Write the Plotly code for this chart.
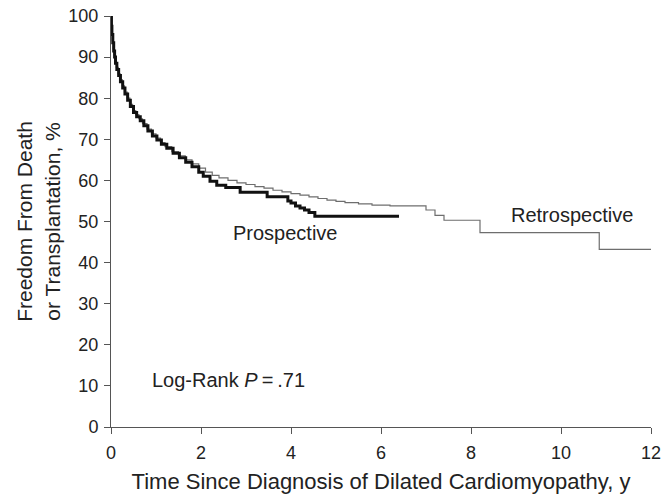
import plotly.graph_objects as go

# Retrospective cohort (thin gray step curve)
retro_t = [0, 0.01, 0.02, 0.03, 0.05, 0.07, 0.09, 0.12, 0.16, 0.2, 0.25, 0.3, 0.36, 0.42, 0.48,
           0.55, 0.62, 0.7, 0.8, 0.9, 1.0, 1.1, 1.2, 1.35, 1.5, 1.65, 1.8, 1.95, 2.1, 2.25, 2.4,
           2.6, 2.8, 3.0, 3.2, 3.4, 3.6, 3.8, 4.0, 4.2, 4.4, 4.6, 4.8, 5.0, 5.2, 5.5, 5.8, 6.2,
           7.0, 7.2, 7.4, 8.2, 10.85, 12.0]
retro_v = [100, 98, 96, 94, 92, 90.5, 89, 87.5, 86, 84.5, 83, 81.5, 80, 78.5, 77,
           76, 75, 73.8, 72.5, 71.3, 70.3, 69.2, 68.2, 67, 66, 65, 64, 63, 62, 61.2, 60.6,
           60, 59.4, 59, 58.5, 58.1, 57.6, 57.2, 56.8, 56.4, 56, 55.6, 55.2, 54.9, 54.6, 54.3, 54.0, 53.8,
           52.8, 51.5, 50.3, 47.3, 43.2, 43.2]

# Prospective cohort (thick black step curve)
pro_t = [0, 0.01, 0.02, 0.04, 0.06, 0.08, 0.1, 0.13, 0.17, 0.21, 0.26, 0.31, 0.37, 0.43, 0.5,
         0.57, 0.65, 0.73, 0.82, 0.92, 1.02, 1.12, 1.24, 1.38, 1.52, 1.66, 1.8, 1.95, 2.05, 2.2,
         2.35, 2.55, 2.87, 3.47, 3.93, 4.0, 4.1, 4.2, 4.3, 4.4, 4.53, 6.4]
pro_v = [100, 97.5, 95.5, 93.5, 91.5, 90, 88.5, 87, 85.5, 84, 82.5, 81, 79.5, 78, 76.5,
         75.5, 74.5, 73.3, 72, 70.8, 69.8, 68.8, 67.8, 66.6, 65.5, 64.4, 63.3, 62, 61, 59.8,
         58.8, 58.3, 57.1, 56.0, 55.0, 54.5, 53.8, 53.3, 52.8, 52.2, 51.3, 51.3]

x_ticks = [0, 2, 4, 6, 8, 10, 12]
y_ticks = [0, 10, 20, 30, 40, 50, 60, 70, 80, 90, 100]

FONT = "Liberation Sans, Arial, Helvetica, sans-serif"
INK = "#222222"

fig = go.Figure()
fig.add_trace(go.Scatter(x=retro_t, y=retro_v, mode="lines", line_shape="hv",
                         line=dict(color="#6e6e6e", width=1.2), name="Retrospective",
                         showlegend=False, cliponaxis=False))
fig.add_trace(go.Scatter(x=pro_t, y=pro_v, mode="lines", line_shape="hv",
                         line=dict(color="#111111", width=3), name="Prospective",
                         showlegend=False, cliponaxis=False))

fig.add_annotation(x=3.87, y=47.3, text="Prospective", showarrow=False,
                   font=dict(family=FONT, size=20, color=INK))
fig.add_annotation(x=10.24, y=51.6, text="Retrospective", showarrow=False,
                   font=dict(family=FONT, size=20, color=INK))
fig.add_annotation(x=0.86, y=11.4, text="Log-Rank <i>P</i>\u2009=\u2009.71", showarrow=False,
                   xanchor="left", font=dict(family=FONT, size=20, color=INK))

fig.update_layout(
    width=663, height=497,
    margin=dict(l=111, r=12, t=16, b=70),
    paper_bgcolor="white", plot_bgcolor="white",
    font=dict(family=FONT, size=18, color=INK),
    xaxis=dict(range=[0, 12], tickvals=x_ticks, ticks="outside", ticklen=6,
               tickcolor="#555", showline=True, linecolor="#555", linewidth=1,
               showgrid=False, zeroline=False, automargin=False,
               tickfont=dict(size=18), ticklabelstandoff=3,
               title=dict(text="Time Since Diagnosis of Dilated Cardiomyopathy, y",
                          font=dict(size=22), standoff=12)),
    yaxis=dict(range=[0, 100], tickvals=y_ticks, ticks="outside", ticklen=6,
               tickcolor="#555", showline=True, linecolor="#555", linewidth=1,
               showgrid=False, zeroline=False, automargin=False,
               tickfont=dict(size=18), ticklabelstandoff=2,
               title=dict(text="Freedom From Death<br>or Transplantation, %",
                          font=dict(size=21), standoff=2)),
)

fig.write_html("out.html")
